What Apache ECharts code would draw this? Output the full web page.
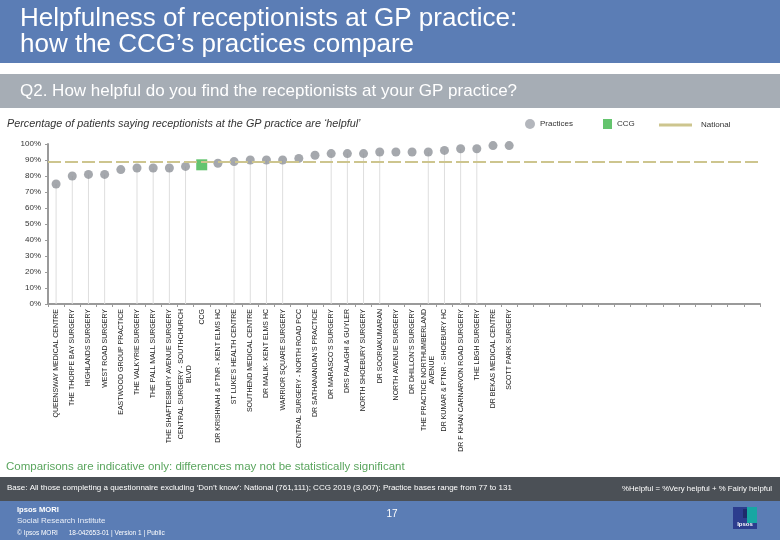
<!DOCTYPE html>
<html>
<head>
<meta charset="utf-8">
<script src="https://cdn.jsdelivr.net/npm/echarts@6/dist/echarts.min.js"></script>
<style>
html,body{margin:0;padding:0;background:#fff;}
#chart{width:780px;height:540px;}
</style>
</head>
<body>
<div id="chart"></div>
<script>
// ---- data ----
const categories = [
  'QUEENSWAY MEDICAL CENTRE',
  'THE THORPE BAY SURGERY',
  'HIGHLANDS SURGERY',
  'WEST ROAD SURGERY',
  'EASTWOOD GROUP PRACTICE',
  'THE VALKYRIE SURGERY',
  'THE PALL MALL SURGERY',
  'THE SHAFTESBURY AVENUE SURGERY',
  'CENTRAL SURGERY - SOUTHCHURCH BLVD',
  'CCG',
  'DR KRISHNAH & PTNR - KENT ELMS HC',
  'ST LUKE\u2019S HEALTH CENTRE',
  'SOUTHEND MEDICAL CENTRE',
  'DR MALIK- KENT ELMS HC',
  'WARRIOR SQUARE SURGERY',
  'CENTRAL SURGERY - NORTH ROAD PCC',
  'DR SATHANANDAN\u2019S PRACTICE',
  'DR MARASCO\u2019S SURGERY',
  'DRS PALAGHI & GUYLER',
  'NORTH SHOEBURY SURGERY',
  'DR SOORIAKUMARAN',
  'NORTH AVENUE SURGERY',
  'DR DHILLON\u2019S SURGERY',
  'THE PRACTICE NORTHUMBERLAND AVENUE',
  'DR KUMAR & PTNR - SHOEBURY HC',
  'DR F KHAN CARNARVON ROAD SURGERY',
  'THE LBGH SURGERY',
  'DR BEKAS MEDICAL CENTRE',
  'SCOTT PARK SURGERY'
];
const helpfulPct = [
  75, 80, 81, 81, 84, 85, 85, 85, 86, 87,
  88, 89, 90, 90, 90, 91, 93, 94, 94, 94,
  95, 95, 95, 95, 96, 97, 97, 99, 99
];
const ccgName = 'CCG';
const nationalPct = 89;
const dropLineIdx = [0,1,2,3,5,6,7,8,11,12,13,14,17,18,19,20,23,24,25,26];

// ---- layout constants ----
const SLOT_COUNT = 44;
const axisCats = categories.concat(new Array(SLOT_COUNT - categories.length).fill(''));
const pad = v => v.concat(new Array(SLOT_COUNT - v.length).fill(null));

const practiceData = pad(categories.map((c, i) => c === ccgName ? null : helpfulPct[i]));
const ccgData = pad(categories.map((c, i) => c === ccgName ? helpfulPct[i] : null));
const dropData = pad(categories.map((c, i) => dropLineIdx.indexOf(i) >= 0 ? helpfulPct[i] : null));

function wrapLabel(name) {
  if (name.length <= 33) return name;
  const cut = name.lastIndexOf(' ', 30);
  return '{c|' + name.slice(0, cut) + '}\n{c|' + name.slice(cut + 1) + '}';
}

const BLUE = '#5b7db5';
const F = '"Liberation Sans", Arial, sans-serif';
const legText = {fontSize: 8, color: '#333', fontFamily: F};

const chart = echarts.init(document.getElementById('chart'), null, {renderer: 'canvas'});
chart.setOption({
  animation: false,
  backgroundColor: '#ffffff',
  textStyle: {fontFamily: F},
  grid: {left: 48, right: 20, top: 144, bottom: 236, containLabel: false},
  legend: [
    {data: [{name: 'Practices', icon: 'circle', itemStyle: {color: '#a0a4ab'}}], left: 520, top: 114, itemWidth: 10, itemHeight: 10,
     textStyle: legText, selectedMode: false},
    {data: [{name: 'CCG', icon: 'rect'}], left: 598, top: 114, itemWidth: 9, itemHeight: 10,
     textStyle: legText, selectedMode: false},
    {data: [{name: 'National', icon: 'rect'}], left: 654, top: 116, itemWidth: 33, itemHeight: 3,
     textStyle: Object.assign({}, legText, {padding: [0, 0, 0, 4]}), selectedMode: false}
  ],
  xAxis: {
    type: 'category',
    data: axisCats,
    boundaryGap: true,
    axisLine: {show: true, lineStyle: {color: '#9a9a9a', width: 2}},
    axisTick: {show: true, length: 3, lineStyle: {color: '#9a9a9a'}},
    axisLabel: {
      interval: 0, rotate: 90, fontSize: 7, color: '#222', margin: 5, fontFamily: F,
      formatter: wrapLabel,
      rich: {c: {align: 'center', fontSize: 7, color: '#222', fontFamily: F, lineHeight: 8}}
    },
    splitLine: {show: false}
  },
  yAxis: {
    type: 'value', min: 0, max: 100, interval: 10,
    axisLine: {show: true, lineStyle: {color: '#9a9a9a', width: 2}},
    axisTick: {show: true, length: 3, lineStyle: {color: '#9a9a9a'}},
    axisLabel: {formatter: '{value}%', fontSize: 8, color: '#333', margin: 7, fontFamily: F},
    splitLine: {show: false}
  },
  series: [
    {
      name: 'drop', type: 'bar', data: dropData, barWidth: 1, silent: true, z: 1,
      itemStyle: {color: '#dedede'}
    },
    {
      name: 'National', type: 'line', data: [], symbol: 'none', showSymbol: false, z: 2,
      lineStyle: {color: '#cdc58e', width: 2, type: [13, 4]},
      itemStyle: {color: '#cdc58e'},
      markLine: {
        silent: true, symbol: 'none', label: {show: false},
        lineStyle: {color: '#cdc58e', width: 2, type: [13, 4]},
        data: [{yAxis: nationalPct}]
      }
    },
    {
      name: 'Practices', type: 'scatter', data: practiceData, symbol: 'circle', symbolSize: 9, z: 3,
      itemStyle: {color: '#8e9298'}
    },
    {
      name: 'CCG', type: 'scatter', data: ccgData, symbol: 'rect', symbolSize: 11, z: 4,
      itemStyle: {color: '#3db54a'}
    }
  ],
  graphic: [
    {type: 'rect', shape: {x: 0, y: 0, width: 780, height: 63}, style: {fill: BLUE}, silent: true},
    {type: 'text', style: {text: 'Helpfulness of receptionists at GP practice:', x: 20, y: 19, fill: '#fff',
      font: '26px ' + F, textVerticalAlign: 'middle', verticalAlign: 'middle'}},
    {type: 'text', style: {text: 'how the CCG\u2019s practices compare', x: 20, y: 45, fill: '#fff',
      font: '26px ' + F, textVerticalAlign: 'middle', verticalAlign: 'middle'}},
    {type: 'rect', shape: {x: 0, y: 74, width: 780, height: 34}, style: {fill: '#a6adb5'}, silent: true},
    {type: 'text', style: {text: 'Q2. How helpful do you find the receptionists at your GP practice?', x: 20, y: 91,
      fill: '#fff', font: '17px ' + F, textVerticalAlign: 'middle', verticalAlign: 'middle'}},
    {type: 'text', style: {text: 'Percentage of patients saying receptionists at the GP practice are \u2018helpful\u2019',
      x: 7, y: 124, fill: '#333', font: 'italic 10.8px ' + F, textVerticalAlign: 'middle', verticalAlign: 'middle'}},
    {type: 'text', style: {text: 'Comparisons are indicative only: differences may not be statistically significant',
      x: 6, y: 467, fill: '#5aa55e', font: '11.5px ' + F, textVerticalAlign: 'middle', verticalAlign: 'middle'}},
    {type: 'rect', shape: {x: 0, y: 477, width: 780, height: 24}, style: {fill: '#4b5056'}, silent: true},
    {type: 'text', style: {text: 'Base: All those completing a questionnaire excluding \u2018Don\u2019t know\u2019: National (761,111); CCG 2019 (3,007); Practice bases range from 77 to 131',
      x: 7, y: 488, fill: '#fff', font: '8px ' + F, textVerticalAlign: 'middle', verticalAlign: 'middle'}},
    {type: 'text', style: {text: '%Helpful = %Very helpful + % Fairly helpful',
      x: 772, y: 489, fill: '#fff', font: '7.8px ' + F, textAlign: 'right', align: 'right',
      textVerticalAlign: 'middle', verticalAlign: 'middle'}},
    {type: 'rect', shape: {x: 0, y: 501, width: 780, height: 39}, style: {fill: BLUE}, silent: true},
    {type: 'text', style: {text: 'Ipsos MORI', x: 17, y: 510, fill: '#fff', font: 'bold 7.6px ' + F,
      textVerticalAlign: 'middle', verticalAlign: 'middle'}},
    {type: 'text', style: {text: 'Social Research Institute', x: 17, y: 521, fill: '#e8eef8', font: '8px ' + F,
      textVerticalAlign: 'middle', verticalAlign: 'middle'}},
    {type: 'text', style: {text: '\u00a9 Ipsos MORI      18-042653-01 | Version 1 | Public', x: 17, y: 533, fill: '#fff',
      font: '6.5px ' + F, textVerticalAlign: 'middle', verticalAlign: 'middle'}},
    {type: 'text', style: {text: '17', x: 392, y: 514, fill: '#fff', font: '10px ' + F, textAlign: 'center', align: 'center',
      textVerticalAlign: 'middle', verticalAlign: 'middle'}},
    {type: 'rect', shape: {x: 733, y: 507, width: 24, height: 22}, style: {fill: '#2c3d8e'}, silent: true},
    {type: 'rect', shape: {x: 747, y: 507, width: 10, height: 16}, style: {fill: '#17a7a3'}, silent: true},
    {type: 'rect', shape: {x: 743, y: 509, width: 4, height: 9}, style: {fill: '#1e2c6c'}, silent: true},
    {type: 'text', style: {text: 'Ipsos', x: 745, y: 524, fill: '#fff', font: 'bold 6px ' + F, textAlign: 'center', align: 'center',
      textVerticalAlign: 'middle', verticalAlign: 'middle'}}
  ]
});
</script>
</body>
</html>
